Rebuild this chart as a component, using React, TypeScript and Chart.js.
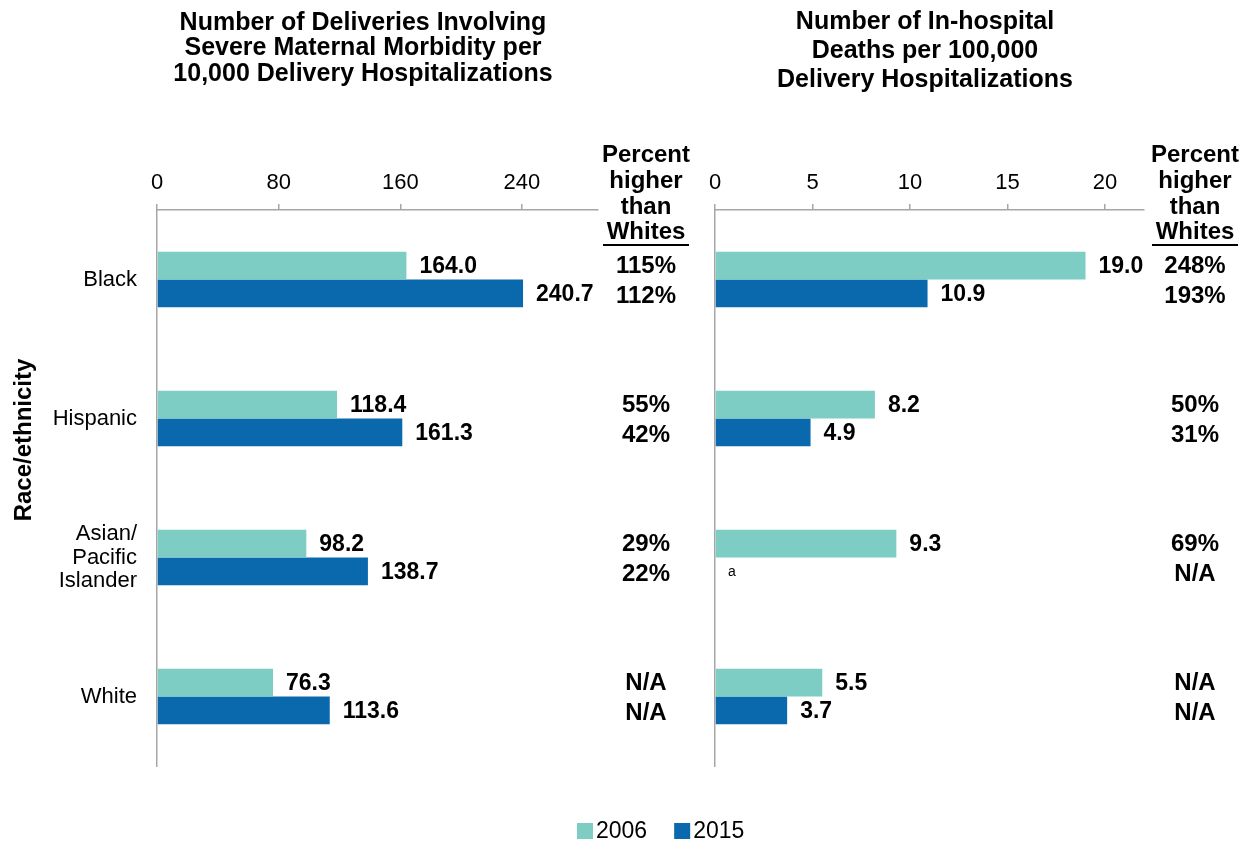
import { useEffect, useRef } from 'react';
import { Chart, registerables } from 'chart.js';

Chart.register(...registerables);

const FONT = "'Liberation Sans', Arial, sans-serif";

const categories: (string | string[])[] = ['Black', 'Hispanic', ['Asian/', 'Pacific', 'Islander'], 'White'];
const years = ['2006', '2015'];
const colors = ['#7ECDC4', '#0A68AD'];

const smm2006 = [164.0, 118.4, 98.2, 76.3];
const smm2015 = [240.7, 161.3, 138.7, 113.6];
const smmPct2006 = ['115%', '55%', '29%', 'N/A'];
const smmPct2015 = ['112%', '42%', '22%', 'N/A'];
const smmTicks = [0, 80, 160, 240];
const smmMax = 290;
const smmTitle = ['Number of Deliveries Involving', 'Severe Maternal Morbidity per', '10,000 Delivery Hospitalizations'];

const deaths2006 = [19.0, 8.2, 9.3, 5.5];
const deaths2015: (number | null)[] = [10.9, 4.9, null, 3.7];
const deathsPct2006 = ['248%', '50%', '69%', 'N/A'];
const deathsPct2015 = ['193%', '31%', 'N/A', 'N/A'];
const deathsNotes: (string | null)[] = [null, null, 'a', null];
const deathsTicks = [0, 5, 10, 15, 20];
const deathsMax = 22;
const deathsTitle = ['Number of In-hospital', 'Deaths per 100,000', 'Delivery Hospitalizations'];

const pctHeader = ['Percent', 'higher', 'than', 'Whites'];
const axisTitle = 'Race/ethnicity';

interface PanelOpts {
  v2006: (number | null)[];
  v2015: (number | null)[];
  p2006: string[];
  p2015: string[];
  notes?: (string | null)[];
  ticks: number[];
  max: number;
  title: string[];
  titleX: number;
  titleY: number[];
  pctX: number;
  padLeft: number;
  padRight: number;
  yWidth: number;
  showY: boolean;
  extras: boolean;
}

function makeConfig(o: PanelOpts): any {
  const textPlugin = {
    id: 'panelText',
    afterDraw(chart: any) {
      const ctx = chart.ctx;
      ctx.save();
      ctx.fillStyle = '#000';
      // Title
      ctx.font = `bold 25px ${FONT}`;
      ctx.textAlign = 'center';
      ctx.textBaseline = 'middle';
      o.title.forEach((line, i) => ctx.fillText(line, o.titleX, o.titleY[i]));
      // Percent header
      ctx.font = `bold 24px ${FONT}`;
      const hy = [155, 181, 207, 232];
      pctHeader.forEach((line, i) => ctx.fillText(line, o.pctX, hy[i]));
      ctx.strokeStyle = '#000';
      ctx.lineWidth = 2;
      ctx.beginPath();
      ctx.moveTo(o.pctX - 43, 245);
      ctx.lineTo(o.pctX + 43, 245);
      ctx.stroke();

      const m0 = chart.getDatasetMeta(0);
      const xs = chart.scales.x;
      const base = xs.getPixelForValue(0);
      ctx.textBaseline = 'middle';
      for (let i = 0; i < categories.length; i++) {
        const e0 = m0.data[i];
        const yTeal = e0.y;
        const h = e0.height;
        const yBlue = yTeal + h;
        // value labels
        ctx.font = `bold 23px ${FONT}`;
        ctx.textAlign = 'left';
        const a = o.v2006[i];
        if (a !== null) ctx.fillText(a.toFixed(1), xs.getPixelForValue(a) + 13, yTeal + 1);
        const b = o.v2015[i];
        if (b !== null) ctx.fillText(b.toFixed(1), xs.getPixelForValue(b) + 13, yBlue + 1);
        else if (o.notes && o.notes[i]) {
          ctx.font = `14px ${FONT}`;
          ctx.fillText(o.notes[i] as string, base + 13, yBlue + 1);
        }
        // percents
        ctx.font = `bold 24px ${FONT}`;
        ctx.textAlign = 'center';
        ctx.fillText(o.p2006[i], o.pctX, yTeal + 1);
        ctx.fillText(o.p2015[i], o.pctX, yBlue + 3);
      }

      if (o.extras) {
        // axis title
        ctx.save();
        ctx.translate(24, 440);
        ctx.rotate(-Math.PI / 2);
        ctx.font = `bold 24px ${FONT}`;
        ctx.textAlign = 'center';
        ctx.textBaseline = 'middle';
        ctx.fillText(axisTitle, 0, 0);
        ctx.restore();
        // legend
        const ds = chart.data.datasets;
        ctx.font = `23px ${FONT}`;
        ctx.textAlign = 'left';
        ctx.textBaseline = 'middle';
        let x = 577;
        ds.forEach((d: any) => {
          ctx.fillStyle = d.backgroundColor;
          ctx.fillRect(x, 823, 16, 16);
          ctx.fillStyle = '#000';
          ctx.fillText(d.label, x + 19, 832);
          x += 19 + ctx.measureText(d.label).width + 27;
        });
      }
      ctx.restore();
    },
  };

  return {
    type: 'bar',
    data: {
      labels: categories,
      datasets: [
        { label: years[0], data: o.v2006, backgroundColor: colors[0], categoryPercentage: 0.4, barPercentage: 1 },
        { label: years[1], data: o.v2015, backgroundColor: colors[1], categoryPercentage: 0.4, barPercentage: 1 },
      ],
    },
    options: {
      indexAxis: 'y',
      responsive: false,
      animation: false,
      devicePixelRatio: 1,
      layout: { padding: { left: o.padLeft, right: o.padRight, top: 0, bottom: 75 } },
      plugins: { legend: { display: false }, tooltip: { enabled: false }, title: { display: false } },
      scales: {
        x: {
          type: 'linear',
          position: 'top',
          min: 0,
          max: o.max,
          afterBuildTicks: (s: any) => {
            s.ticks = o.ticks.map((v) => ({ value: v }));
          },
          afterFit: (s: any) => {
            s.height = 210;
          },
          ticks: { font: { family: FONT, size: 22 }, color: '#000', padding: 8, maxRotation: 0 },
          grid: { drawOnChartArea: false, drawTicks: true, tickLength: 6, color: '#A6A6A6', lineWidth: 1.5 },
          border: { display: true, color: '#A6A6A6', width: 1.5 },
        },
        y: {
          type: 'category',
          afterFit: (s: any) => {
            s.width = o.yWidth;
          },
          ticks: {
            display: o.showY,
            font: { family: FONT, size: 22, lineHeight: 1.08 },
            color: '#000',
            padding: 20,
          },
          grid: { display: false, drawTicks: false },
          border: { display: true, color: '#A6A6A6', width: 1.5 },
        },
      },
    },
    plugins: [textPlugin],
  };
}

export default function App() {
  const leftRef = useRef<HTMLCanvasElement>(null);
  const rightRef = useRef<HTMLCanvasElement>(null);

  useEffect(() => {
    document.body.style.margin = '0';
    const c1 = new Chart(
      leftRef.current as HTMLCanvasElement,
      makeConfig({
        v2006: smm2006,
        v2015: smm2015,
        p2006: smmPct2006,
        p2015: smmPct2015,
        ticks: smmTicks,
        max: smmMax,
        title: smmTitle,
        titleX: 363,
        titleY: [23, 48, 74],
        pctX: 646,
        padLeft: 0,
        padRight: 645,
        yWidth: 157,
        showY: true,
        extras: true,
      })
    );
    const c2 = new Chart(
      rightRef.current as HTMLCanvasElement,
      makeConfig({
        v2006: deaths2006,
        v2015: deaths2015,
        p2006: deathsPct2006,
        p2015: deathsPct2015,
        notes: deathsNotes,
        ticks: deathsTicks,
        max: deathsMax,
        title: deathsTitle,
        titleX: 925,
        titleY: [22, 51, 80],
        pctX: 1195,
        padLeft: 715,
        padRight: 99,
        yWidth: 0,
        showY: false,
        extras: false,
      })
    );
    return () => {
      c1.destroy();
      c2.destroy();
    };
  }, []);

  return (
    <div style={{ position: 'relative', width: 1243, height: 841, background: '#fff', overflow: 'hidden' }}>
      <canvas ref={leftRef} width={1243} height={841} style={{ position: 'absolute', left: 0, top: 0 }} />
      <canvas ref={rightRef} width={1243} height={841} style={{ position: 'absolute', left: 0, top: 0 }} />
    </div>
  );
}
